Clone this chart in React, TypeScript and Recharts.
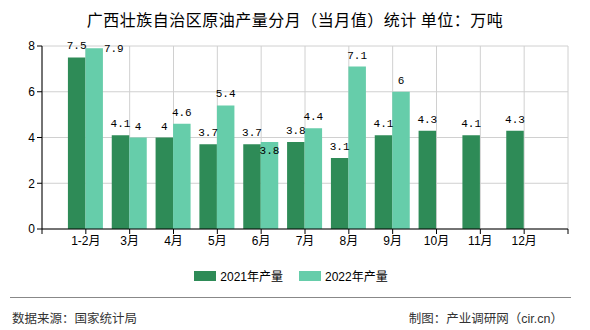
import { Bar, BarChart, CartesianGrid, Legend, XAxis, YAxis } from 'recharts';

const months = ['1-2月', '3月', '4月', '5月', '6月', '7月', '8月', '9月', '10月', '11月', '12月'];
const output2021 = [7.5, 4.1, 4, 3.7, 3.7, 3.8, 3.1, 4.1, 4.3, 4.1, 4.3];
const output2022 = [7.9, 4, 4.6, 5.4, 3.8, 4.4, 7.1, 6, null, null, null];
const yTicks = [0, 2, 4, 6, 8];
const xTicks = [0, 1, 2, 3, 4, 5, 6, 7, 8, 9, 10, 11, 12];

const DARK = '#2E8B57';
const LIGHT = '#66CDAA';
const CJK = '"Liberation Sans", "Noto Sans CJK SC", sans-serif';
const MONO = '"Liberation Mono", "DejaVu Sans Mono", monospace';

const data = months.map((month, i) => ({
  x: i + 1,
  month,
  y2021: output2021[i],
  y2022: output2022[i]
}));

type LabelProps = {
  x?: number;
  y?: number;
  width?: number;
  height?: number;
  value?: number | null;
  index?: number;
};

function TopLabel({ x = 0, y = 0, width = 0, value }: LabelProps) {
  if (value == null) return null;
  return (
    <text x={x + width / 2} y={y - 8} textAnchor="middle" fontSize={11} fontFamily={MONO} fill="#000">
      {value}
    </text>
  );
}

// 2022 labels dodge the 2021 label when they would collide
function Label2022(props: LabelProps) {
  const { x = 0, y = 0, width = 0, value, index = 0 } = props;
  if (value == null) return null;
  const other = output2021[index];
  const text = String(value);
  const clash = text.length > 1 && String(other).length > 1 && Math.abs(other - value) < 0.5;
  if (clash && value > 7) {
    return (
      <text x={x + width + 1} y={y + 4} fontSize={11} fontFamily={MONO} fill="#000">
        {text}
      </text>
    );
  }
  if (clash) {
    return (
      <text x={x + width / 2} y={y + 12} textAnchor="middle" fontSize={11} fontFamily={MONO} fill="#000">
        {text}
      </text>
    );
  }
  return <TopLabel {...props} />;
}

function LegendContent() {
  const items = [
    { name: '2021年产量', color: DARK },
    { name: '2022年产量', color: LIGHT }
  ];
  return (
    <div style={{ display: 'flex', justifyContent: 'center', alignItems: 'center', gap: 16, fontFamily: CJK, fontSize: 12, color: '#000', paddingLeft: 6 }}>
      {items.map((item) => (
        <div key={item.name} style={{ display: 'flex', alignItems: 'center', gap: 4 }}>
          <span style={{ width: 22, height: 10, background: item.color, display: 'inline-block' }} />
          <span>{item.name}</span>
        </div>
      ))}
    </div>
  );
}

export default function App() {
  return (
    <div style={{ position: 'fixed', left: 0, top: 0, width: 590, height: 330, background: '#fff' }}>
      <div
        style={{
          position: 'absolute',
          top: 7,
          left: 0,
          width: 590,
          textAlign: 'center',
          fontFamily: '"Noto Sans CJK SC", sans-serif',
          fontSize: 16,
          letterSpacing: 0.5,
          color: '#000'
        }}
      >
        广西壮族自治区原油产量分月（当月值）统计 单位：万吨
      </div>

      <BarChart
        width={590}
        height={330}
        data={data}
        margin={{ top: 46, right: 22, left: 8, bottom: 43 }}
        barGap={0}
      >
        <CartesianGrid stroke="#d0d0d0" strokeWidth={1} />
        <XAxis
          dataKey="x"
          type="number"
          domain={[0, 12]}
          ticks={xTicks}
          interval={0}
          height={38}
          tickFormatter={(v: number) => months[v - 1] ?? ''}
          axisLine={{ stroke: '#000' }}
          tickLine={{ stroke: '#000' }}
          tickSize={5}
          tick={{ fontSize: 12, fontFamily: CJK, fill: '#000' }}
        />
        <YAxis
          domain={[0, 8]}
          ticks={yTicks}
          width={34}
          axisLine={{ stroke: '#000' }}
          tickLine={{ stroke: '#000' }}
          tickSize={5}
          tick={{ fontSize: 12, fontFamily: CJK, fill: '#000' }}
        />
        <Legend verticalAlign="bottom" height={20} content={<LegendContent />} />
        <Bar dataKey="y2021" name="2021年产量" fill={DARK} barSize={17.5} isAnimationActive={false} label={<TopLabel />} />
        <Bar dataKey="y2022" name="2022年产量" fill={LIGHT} barSize={17.5} isAnimationActive={false} label={<Label2022 />} />
      </BarChart>

      <div style={{ position: 'absolute', left: 10, top: 297, width: 561, borderTop: '1px solid #888' }} />
      <div style={{ position: 'absolute', left: 12, top: 308, fontFamily: CJK, fontSize: 12.5, color: '#333' }}>
        数据来源：国家统计局
      </div>
      <div style={{ position: 'absolute', right: 27, top: 308, fontFamily: CJK, fontSize: 12.5, color: '#333' }}>
        制图：产业调研网（cir.cn）
      </div>
    </div>
  );
}
